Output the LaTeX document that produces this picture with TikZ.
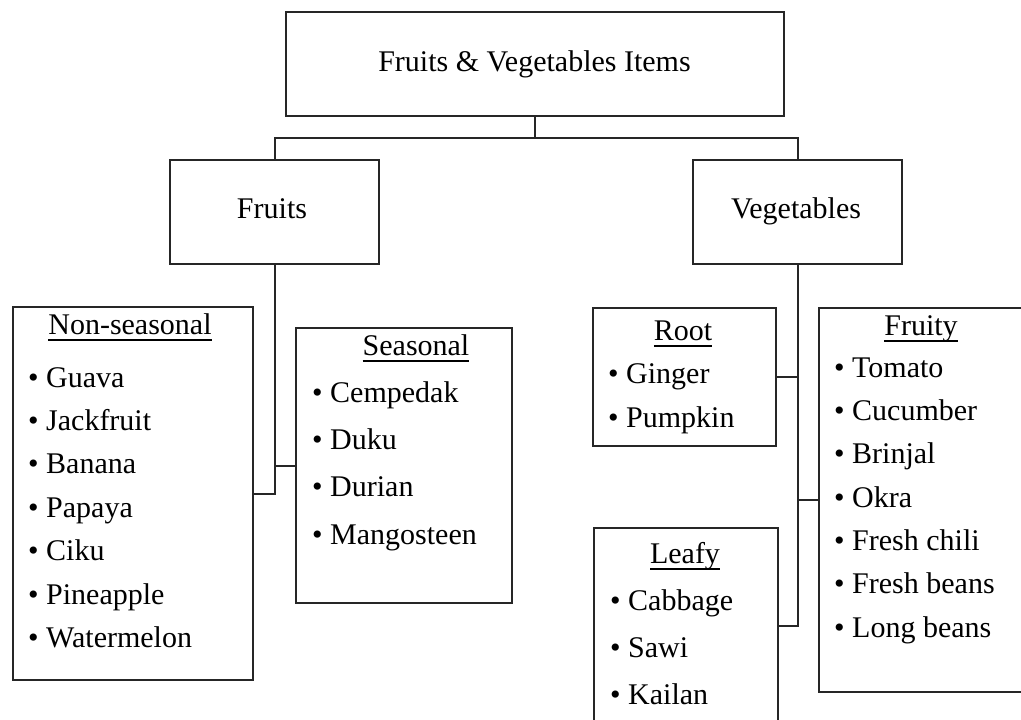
\documentclass[tikz,border=0pt]{standalone}
\usepackage{fontspec}
\setmainfont{Liberation Serif}
\newcommand{\myul}[1]{\setbox0\hbox{#1}\rlap{\rule[-6.6pt]{\wd0}{1.8pt}}\box0}
\begin{document}
\begin{tikzpicture}[x=1pt,y=-1pt,
  box/.style={draw=black!85, line width=2pt, inner sep=0pt, anchor=north west},
  link/.style={draw=black!85, line width=2pt},
  txt/.style={inner sep=0pt, font=\fontsize{30}{36}\selectfont},
  item/.style={txt, anchor=base west},
  ttl/.style={txt, anchor=base}]
\clip (0,0) rectangle (1021,720);
\fill[white] (0,0) rectangle (1021,720);

% boxes
\node[box, minimum width=498pt, minimum height=104pt] (top) at (285,11) {};
\node[box, minimum width=209pt, minimum height=104pt] (fruits) at (169,159) {};
\node[box, minimum width=209pt, minimum height=104pt] (veg) at (692,159) {};
\node[box, minimum width=240pt, minimum height=373pt] (ns) at (12,306) {};
\node[box, minimum width=216pt, minimum height=275pt] (seas) at (295,327) {};
\node[box, minimum width=183pt, minimum height=138pt] (root) at (592,307) {};
\node[box, minimum width=230pt, minimum height=384pt] (fruity) at (818,307) {};
\node[box, minimum width=184pt, minimum height=195pt] (leafy) at (593,527) {};

% headings
\node[ttl] (toptxt) at (534.5,71) {Fruits \& Vegetables Items};
\node[ttl] (fruitstxt) at (272,218) {Fruits};
\node[ttl] (vegtxt) at (796,218) {Vegetables};

% connectors
\draw[link] (top.south) -- ++(0,21) -| (fruits.north);
\draw[link] (top.south) -- ++(0,21) -| (veg.north);
\draw[link] (fruits.south) |- (ns.east);
\draw[link] (fruits.south |- seas.west) -- (seas.west);
\draw[link] (veg.south) |- (leafy.east);
\draw[link] (veg.south |- root.east) -- (root.east);
\draw[link] (veg.south |- fruity.west) -- (fruity.west);

% Non-seasonal
\node[ttl] (nst) at (130,334) {\myul{Non-seasonal}};
\node[item] (ns1) at (28,387) {• Guava};
\node[item] (ns2) at (28,430.4) {• Jackfruit};
\node[item] (ns3) at (28,473.8) {• Banana};
\node[item] (ns4) at (28,517.2) {• Papaya};
\node[item] (ns5) at (28,560.6) {• Ciku};
\node[item] (ns6) at (28,604) {• Pineapple};
\node[item] (ns7) at (28,647.4) {• Watermelon};

% Seasonal
\node[ttl] (set) at (416,355) {\myul{Seasonal}};
\node[item] (se1) at (312,402) {• Cempedak};
\node[item] (se2) at (312,449.3) {• Duku};
\node[item] (se3) at (312,496.6) {• Durian};
\node[item] (se4) at (312,544) {• Mangosteen};

% Root
\node[ttl] (rot) at (683,340) {\myul{Root}};
\node[item] (ro1) at (608,383) {• Ginger};
\node[item] (ro2) at (608,427) {• Pumpkin};

% Fruity
\node[ttl] (frt) at (921,335) {\myul{Fruity}};
\node[item] (fr1) at (834,377) {• Tomato};
\node[item] (fr2) at (834,420.3) {• Cucumber};
\node[item] (fr3) at (834,463.6) {• Brinjal};
\node[item] (fr4) at (834,507) {• Okra};
\node[item] (fr5) at (834,550.3) {• Fresh chili};
\node[item] (fr6) at (834,593.6) {• Fresh beans};
\node[item] (fr7) at (834,637) {• Long beans};

% Leafy
\node[ttl] (let) at (685,563) {\myul{Leafy}};
\node[item] (le1) at (610,610) {• Cabbage};
\node[item] (le2) at (610,657) {• Sawi};
\node[item] (le3) at (610,704) {• Kailan};
\end{tikzpicture}
\end{document}
